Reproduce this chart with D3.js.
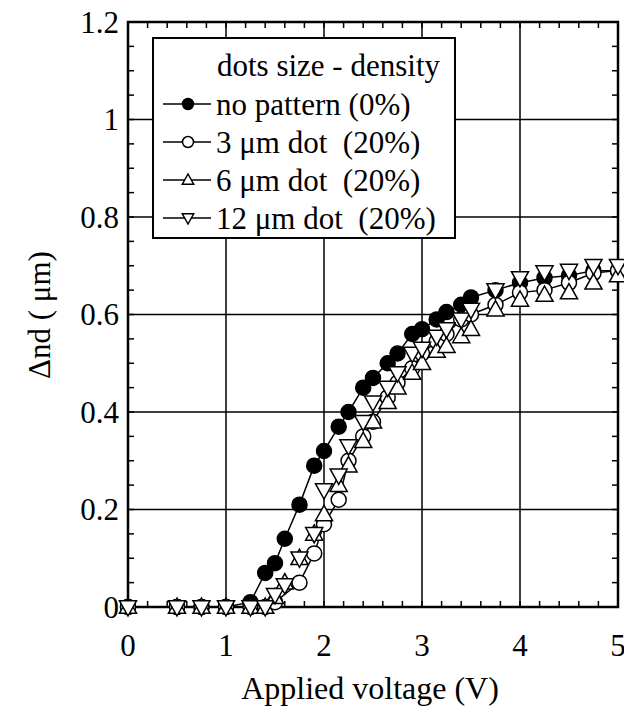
<!DOCTYPE html>
<html>
<head>
<meta charset="utf-8">
<script src="https://cdn.jsdelivr.net/npm/d3@7"></script>
<style>
  body { margin: 0; background: #fff; }
  svg text { font-family: "Liberation Serif", "Times New Roman", "Nimbus Roman", "Noto Serif", "DejaVu Serif", FreeSerif, serif; }
</style>
</head>
<body>
<div id="chart"></div>
<script>
// voltages (V)
const xNoPattern = [0, 0.5, 0.75, 1, 1.25, 1.4, 1.5, 1.6, 1.75, 1.9, 2, 2.15, 2.25, 2.4, 2.5, 2.65, 2.75, 2.9, 3, 3.15, 3.25, 3.4, 3.5, 3.75, 4, 4.25, 4.5, 4.75, 5];
const yNoPattern = [0, 0, 0, 0, 0.01, 0.07, 0.09, 0.14, 0.21, 0.29, 0.32, 0.37, 0.40, 0.45, 0.47, 0.50, 0.52, 0.56, 0.57, 0.59, 0.605, 0.62, 0.635, 0.65, 0.665, 0.675, 0.68, 0.69, 0.69];

const xDot3 = [0, 0.5, 0.75, 1, 1.25, 1.4, 1.5, 1.75, 1.9, 2, 2.15, 2.25, 2.4, 2.5, 2.65, 2.75, 2.9, 3, 3.15, 3.25, 3.4, 3.5, 3.75, 4, 4.25, 4.5, 4.75, 5];
const yDot3 = [0, 0, 0, 0, 0, 0, 0.01, 0.05, 0.11, 0.17, 0.22, 0.30, 0.35, 0.38, 0.43, 0.46, 0.49, 0.52, 0.545, 0.56, 0.59, 0.60, 0.62, 0.645, 0.65, 0.665, 0.685, 0.69];

const xDot6 = [0, 0.5, 0.75, 1, 1.25, 1.4, 1.5, 1.6, 1.75, 1.9, 2, 2.15, 2.25, 2.4, 2.5, 2.65, 2.75, 2.9, 3, 3.15, 3.25, 3.4, 3.5, 3.75, 4, 4.25, 4.5, 4.75, 5];
const yDot6 = [0, 0, 0, 0, 0, 0, 0.02, 0.05, 0.10, 0.15, 0.19, 0.25, 0.29, 0.34, 0.38, 0.42, 0.45, 0.48, 0.50, 0.525, 0.535, 0.555, 0.57, 0.61, 0.63, 0.64, 0.645, 0.665, 0.68];

const xDot12 = [0, 0.5, 0.75, 1, 1.25, 1.4, 1.5, 1.6, 1.75, 1.9, 2, 2.15, 2.25, 2.4, 2.5, 2.65, 2.75, 2.9, 3, 3.15, 3.25, 3.4, 3.5, 3.75, 4, 4.25, 4.5, 4.75, 5];
const yDot12 = [0, 0, 0, 0, 0, 0, 0.025, 0.045, 0.10, 0.15, 0.24, 0.27, 0.33, 0.38, 0.42, 0.45, 0.48, 0.52, 0.53, 0.555, 0.57, 0.59, 0.61, 0.65, 0.675, 0.687, 0.69, 0.70, 0.70];

const seriesNames = ['no pattern (0%)', '3 \u03bcm dot  (20%)', '6 \u03bcm dot  (20%)', '12 \u03bcm dot  (20%)'];
const seriesMarks = ['filled', 'circle', 'up', 'down'];
const xTicks = [0, 1, 2, 3, 4, 5];
const yTicks = [0, 0.2, 0.4, 0.6, 0.8, 1, 1.2];

const width = 624, height = 706;
const margin = { top: 22, right: 6, bottom: 99, left: 128 };

const svg = d3.select('#chart').append('svg')
  .attr('width', width)
  .attr('height', height);

const x = d3.scaleLinear().domain([0, 5]).range([margin.left, width - margin.right]);
const y = d3.scaleLinear().domain([0, 1.2]).range([height - margin.bottom, margin.top]);

// grid
svg.append('g')
  .attr('stroke', '#000').attr('stroke-width', 1.5)
  .selectAll('line')
  .data(xTicks.slice(1, -1))
  .join('line')
    .attr('x1', d => x(d)).attr('x2', d => x(d))
    .attr('y1', y(0)).attr('y2', y(1.2));

svg.append('g')
  .attr('stroke', '#000').attr('stroke-width', 1.5)
  .selectAll('line')
  .data(yTicks.slice(1, -1))
  .join('line')
    .attr('y1', d => y(d)).attr('y2', d => y(d))
    .attr('x1', x(0)).attr('x2', x(5));

// minor ticks, pointing inward on all four sides
const xMinor = d3.range(0, 5.001, 0.2);
const yMinor = d3.range(0, 1.2001, 0.05);
const tickG = svg.append('g').attr('stroke', '#000').attr('stroke-width', 1.5);
xMinor.forEach(v => {
  tickG.append('line').attr('x1', x(v)).attr('x2', x(v)).attr('y1', y(0)).attr('y2', y(0) - 6);
  tickG.append('line').attr('x1', x(v)).attr('x2', x(v)).attr('y1', y(1.2)).attr('y2', y(1.2) + 6);
});
yMinor.forEach(v => {
  tickG.append('line').attr('y1', y(v)).attr('y2', y(v)).attr('x1', x(0)).attr('x2', x(0) + 6);
  tickG.append('line').attr('y1', y(v)).attr('y2', y(v)).attr('x1', x(5)).attr('x2', x(5) - 6);
});

// frame
svg.append('rect')
  .attr('x', x(0)).attr('y', y(1.2))
  .attr('width', x(5) - x(0)).attr('height', y(0) - y(1.2))
  .attr('fill', 'none').attr('stroke', '#000').attr('stroke-width', 2.5);

// tick labels
svg.append('g')
  .attr('font-size', 31).attr('text-anchor', 'middle')
  .selectAll('text')
  .data(xTicks)
  .join('text')
    .attr('x', d => x(d))
    .attr('y', y(0) + 49)
    .text(d => d);

svg.append('g')
  .attr('font-size', 31).attr('text-anchor', 'end')
  .selectAll('text')
  .data(yTicks)
  .join('text')
    .attr('x', x(0) - 9)
    .attr('y', d => y(d))
    .attr('dy', '0.35em')
    .text(d => d);

// axis titles
svg.append('text')
  .attr('x', 370).attr('y', 699)
  .attr('font-size', 32).attr('text-anchor', 'middle')
  .text('Applied voltage (V)');

svg.append('text')
  .attr('transform', 'translate(50,315) rotate(-90)')
  .attr('font-size', 31).attr('text-anchor', 'middle')
  .text('\u0394nd ( \u03bcm)');

function markPath(type, s) {
  if (type === 'up') {
    return `M0,${-s}L${s * 0.95},${s * 0.7}L${-s * 0.95},${s * 0.7}Z`;
  }
  if (type === 'down') {
    return `M0,${s}L${s * 0.95},${-s * 0.7}L${-s * 0.95},${-s * 0.7}Z`;
  }
  return null;
}

function drawMarks(g, type, pts, s) {
  if (type === 'filled' || type === 'circle') {
    g.selectAll('circle')
      .data(pts)
      .join('circle')
        .attr('cx', d => x(d[0]))
        .attr('cy', d => y(d[1]))
        .attr('r', s)
        .attr('fill', type === 'filled' ? '#000' : '#fff')
        .attr('stroke', '#000')
        .attr('stroke-width', 1.5);
  } else {
    g.selectAll('path')
      .data(pts)
      .join('path')
        .attr('transform', d => `translate(${x(d[0])},${y(d[1])})`)
        .attr('d', markPath(type, s + 1.5))
        .attr('fill', '#fff')
        .attr('stroke', '#000')
        .attr('stroke-width', 1.5);
  }
}

const allSeries = [
  { xs: xNoPattern, ys: yNoPattern },
  { xs: xDot3, ys: yDot3 },
  { xs: xDot6, ys: yDot6 },
  { xs: xDot12, ys: yDot12 }
];

const line = d3.line().x(d => x(d[0])).y(d => y(d[1]));

allSeries.forEach((s, i) => {
  const pts = s.xs.map((v, j) => [v, s.ys[j]]);
  const g = svg.append('g');
  g.append('path')
    .datum(pts)
    .attr('d', line)
    .attr('fill', 'none')
    .attr('stroke', '#000')
    .attr('stroke-width', 1.5);
  drawMarks(g, seriesMarks[i], pts, 7.5);
});

// legend
const legend = svg.append('g');
legend.append('rect')
  .attr('x', 153).attr('y', 38)
  .attr('width', 302).attr('height', 200)
  .attr('fill', '#fff').attr('stroke', '#000').attr('stroke-width', 2);

legend.append('text')
  .attr('x', 217).attr('y', 76)
  .attr('font-size', 31)
  .text('dots size - density');

seriesNames.forEach((name, i) => {
  const cy = 104 + i * 38;
  const row = legend.append('g');
  row.append('line')
    .attr('x1', 163).attr('x2', 211)
    .attr('y1', cy).attr('y2', cy)
    .attr('stroke', '#000').attr('stroke-width', 1.5);
  const type = seriesMarks[i];
  if (type === 'filled' || type === 'circle') {
    row.append('circle')
      .attr('cx', 188).attr('cy', cy).attr('r', 5.5)
      .attr('fill', type === 'filled' ? '#000' : '#fff')
      .attr('stroke', '#000').attr('stroke-width', 1.5);
  } else {
    row.append('path')
      .attr('transform', `translate(188,${cy})`)
      .attr('d', markPath(type, 6))
      .attr('fill', '#fff')
      .attr('stroke', '#000').attr('stroke-width', 1.5);
  }
  row.append('text')
    .attr('x', 216).attr('y', cy)
    .attr('dy', '0.35em')
    .attr('font-size', 31)
    .attr('xml:space', 'preserve')
    .style('white-space', 'pre')
    .text(name);
});
</script>
</body>
</html>
